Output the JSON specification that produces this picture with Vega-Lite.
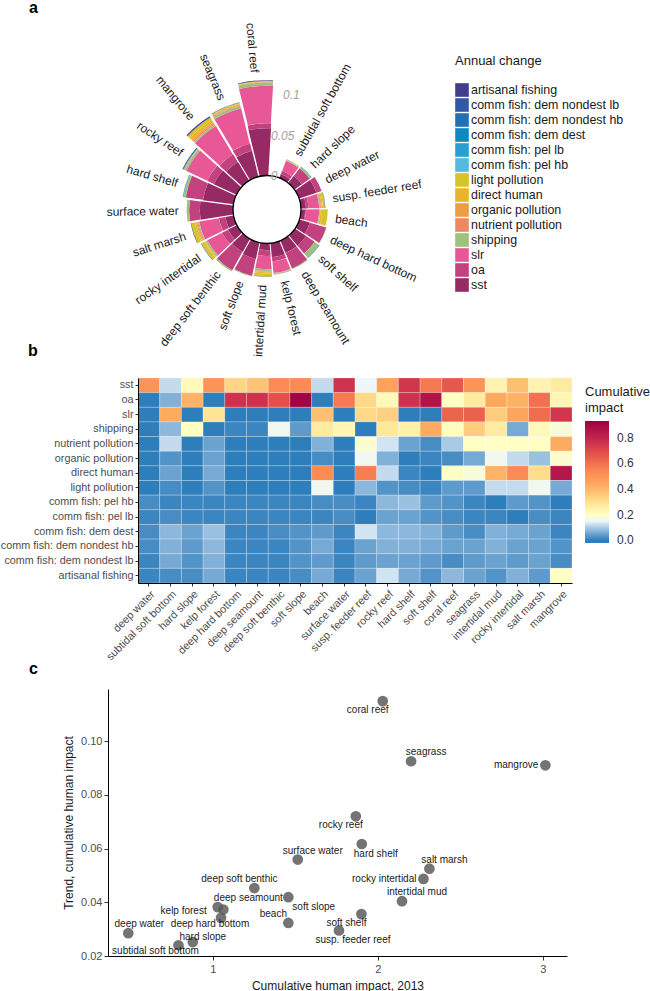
{
"$schema": "https://vega.github.io/schema/vega-lite/v6.json",
"padding": 0,
"bounds": "flush",
"spacing": 106,
"resolve": {"scale": {"color": "independent"}, "legend": {"color": "independent"}},
"config": {
  "font": "Liberation Sans",
  "view": {"stroke": null},
  "axis": {"grid": false, "domainColor": "#000000", "domainWidth": 1, "tickColor": "#333333", "labelColor": "#4d4d4d", "titleColor": "#1a1a1a", "titleFontWeight": "normal", "labelFontSize": 11, "titleFontSize": 12},
  "legend": {"titleFontWeight": "normal", "titleColor": "#1a1a1a", "labelColor": "#1a1a1a"},
  "title": {"fontSize": 16, "fontWeight": "bold", "anchor": "start", "frame": "group", "color": "#000000", "baseline": "alphabetic"}
},
"datasets": {
  "habitats": [
    {"habitat":"deep water","impact2013":0.488,"trend":0.0285},
    {"habitat":"subtidal soft bottom","impact2013":0.792,"trend":0.0240},
    {"habitat":"hard slope","impact2013":0.879,"trend":0.0252},
    {"habitat":"kelp forest","impact2013":1.030,"trend":0.0382},
    {"habitat":"deep seamount","impact2013":1.064,"trend":0.0373},
    {"habitat":"deep hard bottom","impact2013":1.050,"trend":0.0342},
    {"habitat":"deep soft benthic","impact2013":1.252,"trend":0.0453},
    {"habitat":"surface water","impact2013":1.515,"trend":0.0559},
    {"habitat":"soft slope","impact2013":1.458,"trend":0.0419},
    {"habitat":"beach","impact2013":1.458,"trend":0.0323},
    {"habitat":"coral reef","impact2013":2.030,"trend":0.1149},
    {"habitat":"seagrass","impact2013":2.202,"trend":0.0925},
    {"habitat":"mangrove","impact2013":3.016,"trend":0.0910},
    {"habitat":"rocky reef","impact2013":1.867,"trend":0.0720},
    {"habitat":"hard shelf","impact2013":1.903,"trend":0.0617},
    {"habitat":"salt marsh","impact2013":2.313,"trend":0.0525},
    {"habitat":"rocky intertidal","impact2013":2.277,"trend":0.0487},
    {"habitat":"intertidal mud","impact2013":2.147,"trend":0.0404},
    {"habitat":"soft shelf","impact2013":1.901,"trend":0.0356},
    {"habitat":"susp. feeder reef","impact2013":1.765,"trend":0.0295}
  ],
  "polar": [
    {"habitat":"subtidal soft bottom","stressor":"sst","change":0.005},
    {"habitat":"subtidal soft bottom","stressor":"oa","change":0.004},
    {"habitat":"subtidal soft bottom","stressor":"slr","change":0.013},
    {"habitat":"subtidal soft bottom","stressor":"shipping","change":0.001},
    {"habitat":"subtidal soft bottom","stressor":"organic pollution","change":0.0004},
    {"habitat":"subtidal soft bottom","stressor":"light pollution","change":0.0004},
    {"habitat":"subtidal soft bottom","stressor":"comm fish: dem dest","change":0.0001},
    {"habitat":"subtidal soft bottom","stressor":"artisanal fishing","change":0.0001},
    {"habitat":"hard slope","stressor":"sst","change":0.011},
    {"habitat":"hard slope","stressor":"oa","change":0.0115},
    {"habitat":"hard slope","stressor":"shipping","change":0.0022},
    {"habitat":"hard slope","stressor":"comm fish: dem dest","change":0.0005},
    {"habitat":"deep water","stressor":"sst","change":0.022},
    {"habitat":"deep water","stressor":"oa","change":0.0065},
    {"habitat":"susp. feeder reef","stressor":"sst","change":0.006},
    {"habitat":"susp. feeder reef","stressor":"oa","change":0.003},
    {"habitat":"susp. feeder reef","stressor":"slr","change":0.013},
    {"habitat":"susp. feeder reef","stressor":"shipping","change":0.001},
    {"habitat":"susp. feeder reef","stressor":"nutrient pollution","change":0.001},
    {"habitat":"susp. feeder reef","stressor":"organic pollution","change":0.001},
    {"habitat":"susp. feeder reef","stressor":"direct human","change":0.0015},
    {"habitat":"susp. feeder reef","stressor":"light pollution","change":0.0025},
    {"habitat":"susp. feeder reef","stressor":"comm fish: dem dest","change":0.0003},
    {"habitat":"susp. feeder reef","stressor":"artisanal fishing","change":0.0002},
    {"habitat":"beach","stressor":"sst","change":0.005},
    {"habitat":"beach","stressor":"oa","change":0.001},
    {"habitat":"beach","stressor":"slr","change":0.016},
    {"habitat":"beach","stressor":"shipping","change":0.001},
    {"habitat":"beach","stressor":"organic pollution","change":0.0005},
    {"habitat":"beach","stressor":"direct human","change":0.002},
    {"habitat":"beach","stressor":"light pollution","change":0.0068},
    {"habitat":"deep hard bottom","stressor":"sst","change":0.013},
    {"habitat":"deep hard bottom","stressor":"oa","change":0.0207},
    {"habitat":"deep hard bottom","stressor":"shipping","change":0.0005},
    {"habitat":"soft shelf","stressor":"sst","change":0.016},
    {"habitat":"soft shelf","stressor":"oa","change":0.0125},
    {"habitat":"soft shelf","stressor":"shipping","change":0.0065},
    {"habitat":"soft shelf","stressor":"comm fish: pel hb","change":0.0002},
    {"habitat":"soft shelf","stressor":"comm fish: dem dest","change":0.0002},
    {"habitat":"soft shelf","stressor":"artisanal fishing","change":0.0002},
    {"habitat":"deep seamount","stressor":"sst","change":0.016},
    {"habitat":"deep seamount","stressor":"oa","change":0.0203},
    {"habitat":"deep seamount","stressor":"shipping","change":0.001},
    {"habitat":"kelp forest","stressor":"sst","change":0.017},
    {"habitat":"kelp forest","stressor":"oa","change":0.005},
    {"habitat":"kelp forest","stressor":"slr","change":0.014},
    {"habitat":"kelp forest","stressor":"shipping","change":0.001},
    {"habitat":"kelp forest","stressor":"nutrient pollution","change":0.0003},
    {"habitat":"kelp forest","stressor":"organic pollution","change":0.0002},
    {"habitat":"kelp forest","stressor":"direct human","change":0.0003},
    {"habitat":"kelp forest","stressor":"comm fish: dem dest","change":0.0002},
    {"habitat":"kelp forest","stressor":"artisanal fishing","change":0.0002},
    {"habitat":"intertidal mud","stressor":"sst","change":0.008},
    {"habitat":"intertidal mud","stressor":"oa","change":0.007},
    {"habitat":"intertidal mud","stressor":"slr","change":0.016},
    {"habitat":"intertidal mud","stressor":"shipping","change":0.002},
    {"habitat":"intertidal mud","stressor":"nutrient pollution","change":0.0007},
    {"habitat":"intertidal mud","stressor":"organic pollution","change":0.001},
    {"habitat":"intertidal mud","stressor":"direct human","change":0.0015},
    {"habitat":"intertidal mud","stressor":"light pollution","change":0.004},
    {"habitat":"intertidal mud","stressor":"comm fish: dem nondest hb","change":0.0002},
    {"habitat":"soft slope","stressor":"sst","change":0.020},
    {"habitat":"soft slope","stressor":"oa","change":0.021},
    {"habitat":"soft slope","stressor":"shipping","change":0.0009},
    {"habitat":"deep soft benthic","stressor":"sst","change":0.018},
    {"habitat":"deep soft benthic","stressor":"oa","change":0.0253},
    {"habitat":"deep soft benthic","stressor":"shipping","change":0.002},
    {"habitat":"rocky intertidal","stressor":"sst","change":0.012},
    {"habitat":"rocky intertidal","stressor":"oa","change":0.008},
    {"habitat":"rocky intertidal","stressor":"slr","change":0.020},
    {"habitat":"rocky intertidal","stressor":"shipping","change":0.002},
    {"habitat":"rocky intertidal","stressor":"organic pollution","change":0.0008},
    {"habitat":"rocky intertidal","stressor":"direct human","change":0.0012},
    {"habitat":"rocky intertidal","stressor":"light pollution","change":0.004},
    {"habitat":"rocky intertidal","stressor":"comm fish: pel hb","change":0.0002},
    {"habitat":"rocky intertidal","stressor":"artisanal fishing","change":0.0005},
    {"habitat":"salt marsh","stressor":"sst","change":0.010},
    {"habitat":"salt marsh","stressor":"oa","change":0.008},
    {"habitat":"salt marsh","stressor":"slr","change":0.024},
    {"habitat":"salt marsh","stressor":"shipping","change":0.0015},
    {"habitat":"salt marsh","stressor":"nutrient pollution","change":0.001},
    {"habitat":"salt marsh","stressor":"organic pollution","change":0.0012},
    {"habitat":"salt marsh","stressor":"direct human","change":0.0018},
    {"habitat":"salt marsh","stressor":"light pollution","change":0.0045},
    {"habitat":"salt marsh","stressor":"artisanal fishing","change":0.0005},
    {"habitat":"surface water","stressor":"sst","change":0.040},
    {"habitat":"surface water","stressor":"oa","change":0.0129},
    {"habitat":"surface water","stressor":"shipping","change":0.003},
    {"habitat":"hard shelf","stressor":"sst","change":0.037},
    {"habitat":"hard shelf","stressor":"oa","change":0.021},
    {"habitat":"hard shelf","stressor":"shipping","change":0.0025},
    {"habitat":"hard shelf","stressor":"comm fish: pel hb","change":0.0003},
    {"habitat":"hard shelf","stressor":"comm fish: pel lb","change":0.0002},
    {"habitat":"hard shelf","stressor":"comm fish: dem dest","change":0.0003},
    {"habitat":"hard shelf","stressor":"comm fish: dem nondest hb","change":0.0002},
    {"habitat":"hard shelf","stressor":"artisanal fishing","change":0.0002},
    {"habitat":"rocky reef","stressor":"sst","change":0.030},
    {"habitat":"rocky reef","stressor":"oa","change":0.009},
    {"habitat":"rocky reef","stressor":"slr","change":0.0275},
    {"habitat":"rocky reef","stressor":"shipping","change":0.0025},
    {"habitat":"rocky reef","stressor":"organic pollution","change":0.0005},
    {"habitat":"rocky reef","stressor":"direct human","change":0.0005},
    {"habitat":"rocky reef","stressor":"comm fish: pel hb","change":0.0003},
    {"habitat":"rocky reef","stressor":"comm fish: dem dest","change":0.0002},
    {"habitat":"rocky reef","stressor":"comm fish: dem nondest hb","change":0.0003},
    {"habitat":"rocky reef","stressor":"comm fish: dem nondest lb","change":0.0002},
    {"habitat":"rocky reef","stressor":"artisanal fishing","change":0.001},
    {"habitat":"mangrove","stressor":"sst","change":0.026},
    {"habitat":"mangrove","stressor":"oa","change":0.011},
    {"habitat":"mangrove","stressor":"slr","change":0.040},
    {"habitat":"mangrove","stressor":"shipping","change":0.002},
    {"habitat":"mangrove","stressor":"nutrient pollution","change":0.0015},
    {"habitat":"mangrove","stressor":"organic pollution","change":0.002},
    {"habitat":"mangrove","stressor":"direct human","change":0.003},
    {"habitat":"mangrove","stressor":"light pollution","change":0.0035},
    {"habitat":"mangrove","stressor":"comm fish: dem nondest hb","change":0.0005},
    {"habitat":"mangrove","stressor":"artisanal fishing","change":0.0015},
    {"habitat":"seagrass","stressor":"sst","change":0.032},
    {"habitat":"seagrass","stressor":"oa","change":0.009},
    {"habitat":"seagrass","stressor":"slr","change":0.044},
    {"habitat":"seagrass","stressor":"shipping","change":0.003},
    {"habitat":"seagrass","stressor":"nutrient pollution","change":0.0008},
    {"habitat":"seagrass","stressor":"organic pollution","change":0.0012},
    {"habitat":"seagrass","stressor":"direct human","change":0.001},
    {"habitat":"seagrass","stressor":"light pollution","change":0.0008},
    {"habitat":"seagrass","stressor":"comm fish: dem nondest hb","change":0.0003},
    {"habitat":"seagrass","stressor":"artisanal fishing","change":0.0004},
    {"habitat":"coral reef","stressor":"sst","change":0.057},
    {"habitat":"coral reef","stressor":"oa","change":0.006},
    {"habitat":"coral reef","stressor":"slr","change":0.0451},
    {"habitat":"coral reef","stressor":"shipping","change":0.004},
    {"habitat":"coral reef","stressor":"organic pollution","change":0.0005},
    {"habitat":"coral reef","stressor":"direct human","change":0.0006},
    {"habitat":"coral reef","stressor":"light pollution","change":0.0006},
    {"habitat":"coral reef","stressor":"comm fish: dem nondest lb","change":0.0004},
    {"habitat":"coral reef","stressor":"artisanal fishing","change":0.0007}
  ],
  "heat": [
    {"habitat":"deep water","stressor":"sst","impact":0.50},{"habitat":"subtidal soft bottom","stressor":"sst","impact":0.12},{"habitat":"hard slope","stressor":"sst","impact":0.22},{"habitat":"kelp forest","stressor":"sst","impact":0.50},{"habitat":"deep hard bottom","stressor":"sst","impact":0.33},{"habitat":"deep seamount","stressor":"sst","impact":0.37},{"habitat":"deep soft benthic","stressor":"sst","impact":0.53},{"habitat":"soft slope","stressor":"sst","impact":0.53},{"habitat":"beach","stressor":"sst","impact":0.12},{"habitat":"surface water","stressor":"sst","impact":0.76},{"habitat":"susp. feeder reef","stressor":"sst","impact":0.15},{"habitat":"rocky reef","stressor":"sst","impact":0.46},{"habitat":"hard shelf","stressor":"sst","impact":0.75},{"habitat":"soft shelf","stressor":"sst","impact":0.58},{"habitat":"coral reef","stressor":"sst","impact":0.66},{"habitat":"seagrass","stressor":"sst","impact":0.50},{"habitat":"intertidal mud","stressor":"sst","impact":0.24},{"habitat":"rocky intertidal","stressor":"sst","impact":0.38},{"habitat":"salt marsh","stressor":"sst","impact":0.24},{"habitat":"mangrove","stressor":"sst","impact":0.27},
    {"habitat":"deep water","stressor":"oa","impact":0.00},{"habitat":"subtidal soft bottom","stressor":"oa","impact":0.07},{"habitat":"hard slope","stressor":"oa","impact":0.41},{"habitat":"kelp forest","stressor":"oa","impact":0.00},{"habitat":"deep hard bottom","stressor":"oa","impact":0.76},{"habitat":"deep seamount","stressor":"oa","impact":0.76},{"habitat":"deep soft benthic","stressor":"oa","impact":0.68},{"habitat":"soft slope","stressor":"oa","impact":0.92},{"habitat":"beach","stressor":"oa","impact":0.00},{"habitat":"surface water","stressor":"oa","impact":0.58},{"habitat":"susp. feeder reef","stressor":"oa","impact":0.32},{"habitat":"rocky reef","stressor":"oa","impact":0.22},{"habitat":"hard shelf","stressor":"oa","impact":0.76},{"habitat":"soft shelf","stressor":"oa","impact":0.86},{"habitat":"coral reef","stressor":"oa","impact":0.20},{"habitat":"seagrass","stressor":"oa","impact":0.27},{"habitat":"intertidal mud","stressor":"oa","impact":0.44},{"habitat":"rocky intertidal","stressor":"oa","impact":0.41},{"habitat":"salt marsh","stressor":"oa","impact":0.60},{"habitat":"mangrove","stressor":"oa","impact":0.23},
    {"habitat":"deep water","stressor":"slr","impact":0.00},{"habitat":"subtidal soft bottom","stressor":"slr","impact":0.43},{"habitat":"hard slope","stressor":"slr","impact":0.00},{"habitat":"kelp forest","stressor":"slr","impact":0.29},{"habitat":"deep hard bottom","stressor":"slr","impact":0.00},{"habitat":"deep seamount","stressor":"slr","impact":0.00},{"habitat":"deep soft benthic","stressor":"slr","impact":0.00},{"habitat":"soft slope","stressor":"slr","impact":0.00},{"habitat":"beach","stressor":"slr","impact":0.38},{"habitat":"surface water","stressor":"slr","impact":0.00},{"habitat":"susp. feeder reef","stressor":"slr","impact":0.32},{"habitat":"rocky reef","stressor":"slr","impact":0.34},{"habitat":"hard shelf","stressor":"slr","impact":0.00},{"habitat":"soft shelf","stressor":"slr","impact":0.00},{"habitat":"coral reef","stressor":"slr","impact":0.63},{"habitat":"seagrass","stressor":"slr","impact":0.64},{"habitat":"intertidal mud","stressor":"slr","impact":0.35},{"habitat":"rocky intertidal","stressor":"slr","impact":0.45},{"habitat":"salt marsh","stressor":"slr","impact":0.61},{"habitat":"mangrove","stressor":"slr","impact":0.75},
    {"habitat":"deep water","stressor":"shipping","impact":0.00},{"habitat":"subtidal soft bottom","stressor":"shipping","impact":0.08},{"habitat":"hard slope","stressor":"shipping","impact":0.20},{"habitat":"kelp forest","stressor":"shipping","impact":0.00},{"habitat":"deep hard bottom","stressor":"shipping","impact":0.01},{"habitat":"deep seamount","stressor":"shipping","impact":0.01},{"habitat":"deep soft benthic","stressor":"shipping","impact":0.16},{"habitat":"soft slope","stressor":"shipping","impact":0.04},{"habitat":"beach","stressor":"shipping","impact":0.27},{"habitat":"surface water","stressor":"shipping","impact":0.23},{"habitat":"susp. feeder reef","stressor":"shipping","impact":0.00},{"habitat":"rocky reef","stressor":"shipping","impact":0.28},{"habitat":"hard shelf","stressor":"shipping","impact":0.25},{"habitat":"soft shelf","stressor":"shipping","impact":0.43},{"habitat":"coral reef","stressor":"shipping","impact":0.21},{"habitat":"seagrass","stressor":"shipping","impact":0.35},{"habitat":"intertidal mud","stressor":"shipping","impact":0.27},{"habitat":"rocky intertidal","stressor":"shipping","impact":0.06},{"habitat":"salt marsh","stressor":"shipping","impact":0.22},{"habitat":"mangrove","stressor":"shipping","impact":0.18},
    {"habitat":"deep water","stressor":"nutrient pollution","impact":0.00},{"habitat":"subtidal soft bottom","stressor":"nutrient pollution","impact":0.12},{"habitat":"hard slope","stressor":"nutrient pollution","impact":0.00},{"habitat":"kelp forest","stressor":"nutrient pollution","impact":0.05},{"habitat":"deep hard bottom","stressor":"nutrient pollution","impact":0.00},{"habitat":"deep seamount","stressor":"nutrient pollution","impact":0.00},{"habitat":"deep soft benthic","stressor":"nutrient pollution","impact":0.00},{"habitat":"soft slope","stressor":"nutrient pollution","impact":0.00},{"habitat":"beach","stressor":"nutrient pollution","impact":0.07},{"habitat":"surface water","stressor":"nutrient pollution","impact":0.00},{"habitat":"susp. feeder reef","stressor":"nutrient pollution","impact":0.19},{"habitat":"rocky reef","stressor":"nutrient pollution","impact":0.13},{"habitat":"hard shelf","stressor":"nutrient pollution","impact":0.05},{"habitat":"soft shelf","stressor":"nutrient pollution","impact":0.02},{"habitat":"coral reef","stressor":"nutrient pollution","impact":0.10},{"habitat":"seagrass","stressor":"nutrient pollution","impact":0.20},{"habitat":"intertidal mud","stressor":"nutrient pollution","impact":0.20},{"habitat":"rocky intertidal","stressor":"nutrient pollution","impact":0.20},{"habitat":"salt marsh","stressor":"nutrient pollution","impact":0.20},{"habitat":"mangrove","stressor":"nutrient pollution","impact":0.43},
    {"habitat":"deep water","stressor":"organic pollution","impact":0.00},{"habitat":"subtidal soft bottom","stressor":"organic pollution","impact":0.03},{"habitat":"hard slope","stressor":"organic pollution","impact":0.00},{"habitat":"kelp forest","stressor":"organic pollution","impact":0.05},{"habitat":"deep hard bottom","stressor":"organic pollution","impact":0.00},{"habitat":"deep seamount","stressor":"organic pollution","impact":0.00},{"habitat":"deep soft benthic","stressor":"organic pollution","impact":0.00},{"habitat":"soft slope","stressor":"organic pollution","impact":0.00},{"habitat":"beach","stressor":"organic pollution","impact":0.02},{"habitat":"surface water","stressor":"organic pollution","impact":0.00},{"habitat":"susp. feeder reef","stressor":"organic pollution","impact":0.16},{"habitat":"rocky reef","stressor":"organic pollution","impact":0.07},{"habitat":"hard shelf","stressor":"organic pollution","impact":0.00},{"habitat":"soft shelf","stressor":"organic pollution","impact":0.01},{"habitat":"coral reef","stressor":"organic pollution","impact":0.02},{"habitat":"seagrass","stressor":"organic pollution","impact":0.06},{"habitat":"intertidal mud","stressor":"organic pollution","impact":0.16},{"habitat":"rocky intertidal","stressor":"organic pollution","impact":0.12},{"habitat":"salt marsh","stressor":"organic pollution","impact":0.09},{"habitat":"mangrove","stressor":"organic pollution","impact":0.19},
    {"habitat":"deep water","stressor":"direct human","impact":0.00},{"habitat":"subtidal soft bottom","stressor":"direct human","impact":0.05},{"habitat":"hard slope","stressor":"direct human","impact":0.00},{"habitat":"kelp forest","stressor":"direct human","impact":0.06},{"habitat":"deep hard bottom","stressor":"direct human","impact":0.00},{"habitat":"deep seamount","stressor":"direct human","impact":0.00},{"habitat":"deep soft benthic","stressor":"direct human","impact":0.00},{"habitat":"soft slope","stressor":"direct human","impact":0.00},{"habitat":"beach","stressor":"direct human","impact":0.53},{"habitat":"surface water","stressor":"direct human","impact":0.00},{"habitat":"susp. feeder reef","stressor":"direct human","impact":0.57},{"habitat":"rocky reef","stressor":"direct human","impact":0.12},{"habitat":"hard shelf","stressor":"direct human","impact":0.01},{"habitat":"soft shelf","stressor":"direct human","impact":0.00},{"habitat":"coral reef","stressor":"direct human","impact":0.20},{"habitat":"seagrass","stressor":"direct human","impact":0.18},{"habitat":"intertidal mud","stressor":"direct human","impact":0.41},{"habitat":"rocky intertidal","stressor":"direct human","impact":0.53},{"habitat":"salt marsh","stressor":"direct human","impact":0.31},{"habitat":"mangrove","stressor":"direct human","impact":0.85},
    {"habitat":"deep water","stressor":"light pollution","impact":0.00},{"habitat":"subtidal soft bottom","stressor":"light pollution","impact":0.02},{"habitat":"hard slope","stressor":"light pollution","impact":0.00},{"habitat":"kelp forest","stressor":"light pollution","impact":0.03},{"habitat":"deep hard bottom","stressor":"light pollution","impact":0.00},{"habitat":"deep seamount","stressor":"light pollution","impact":0.00},{"habitat":"deep soft benthic","stressor":"light pollution","impact":0.00},{"habitat":"soft slope","stressor":"light pollution","impact":0.00},{"habitat":"beach","stressor":"light pollution","impact":0.16},{"habitat":"surface water","stressor":"light pollution","impact":0.00},{"habitat":"susp. feeder reef","stressor":"light pollution","impact":0.08},{"habitat":"rocky reef","stressor":"light pollution","impact":0.03},{"habitat":"hard shelf","stressor":"light pollution","impact":0.02},{"habitat":"soft shelf","stressor":"light pollution","impact":0.01},{"habitat":"coral reef","stressor":"light pollution","impact":0.04},{"habitat":"seagrass","stressor":"light pollution","impact":0.04},{"habitat":"intertidal mud","stressor":"light pollution","impact":0.12},{"habitat":"rocky intertidal","stressor":"light pollution","impact":0.12},{"habitat":"salt marsh","stressor":"light pollution","impact":0.16},{"habitat":"mangrove","stressor":"light pollution","impact":0.06},
    {"habitat":"deep water","stressor":"comm fish: pel hb","impact":0.02},{"habitat":"subtidal soft bottom","stressor":"comm fish: pel hb","impact":0.01},{"habitat":"hard slope","stressor":"comm fish: pel hb","impact":0.01},{"habitat":"kelp forest","stressor":"comm fish: pel hb","impact":0.01},{"habitat":"deep hard bottom","stressor":"comm fish: pel hb","impact":0.01},{"habitat":"deep seamount","stressor":"comm fish: pel hb","impact":0.01},{"habitat":"deep soft benthic","stressor":"comm fish: pel hb","impact":0.01},{"habitat":"soft slope","stressor":"comm fish: pel hb","impact":0.01},{"habitat":"beach","stressor":"comm fish: pel hb","impact":0.02},{"habitat":"surface water","stressor":"comm fish: pel hb","impact":0.02},{"habitat":"susp. feeder reef","stressor":"comm fish: pel hb","impact":0.01},{"habitat":"rocky reef","stressor":"comm fish: pel hb","impact":0.08},{"habitat":"hard shelf","stressor":"comm fish: pel hb","impact":0.09},{"habitat":"soft shelf","stressor":"comm fish: pel hb","impact":0.04},{"habitat":"coral reef","stressor":"comm fish: pel hb","impact":0.03},{"habitat":"seagrass","stressor":"comm fish: pel hb","impact":0.01},{"habitat":"intertidal mud","stressor":"comm fish: pel hb","impact":0.00},{"habitat":"rocky intertidal","stressor":"comm fish: pel hb","impact":0.04},{"habitat":"salt marsh","stressor":"comm fish: pel hb","impact":0.03},{"habitat":"mangrove","stressor":"comm fish: pel hb","impact":0.00},
    {"habitat":"deep water","stressor":"comm fish: pel lb","impact":0.01},{"habitat":"subtidal soft bottom","stressor":"comm fish: pel lb","impact":0.02},{"habitat":"hard slope","stressor":"comm fish: pel lb","impact":0.01},{"habitat":"kelp forest","stressor":"comm fish: pel lb","impact":0.01},{"habitat":"deep hard bottom","stressor":"comm fish: pel lb","impact":0.01},{"habitat":"deep seamount","stressor":"comm fish: pel lb","impact":0.01},{"habitat":"deep soft benthic","stressor":"comm fish: pel lb","impact":0.01},{"habitat":"soft slope","stressor":"comm fish: pel lb","impact":0.01},{"habitat":"beach","stressor":"comm fish: pel lb","impact":0.01},{"habitat":"surface water","stressor":"comm fish: pel lb","impact":0.02},{"habitat":"susp. feeder reef","stressor":"comm fish: pel lb","impact":0.00},{"habitat":"rocky reef","stressor":"comm fish: pel lb","impact":0.05},{"habitat":"hard shelf","stressor":"comm fish: pel lb","impact":0.05},{"habitat":"soft shelf","stressor":"comm fish: pel lb","impact":0.03},{"habitat":"coral reef","stressor":"comm fish: pel lb","impact":0.02},{"habitat":"seagrass","stressor":"comm fish: pel lb","impact":0.01},{"habitat":"intertidal mud","stressor":"comm fish: pel lb","impact":0.01},{"habitat":"rocky intertidal","stressor":"comm fish: pel lb","impact":0.00},{"habitat":"salt marsh","stressor":"comm fish: pel lb","impact":0.02},{"habitat":"mangrove","stressor":"comm fish: pel lb","impact":0.01},
    {"habitat":"deep water","stressor":"comm fish: dem dest","impact":0.02},{"habitat":"subtidal soft bottom","stressor":"comm fish: dem dest","impact":0.08},{"habitat":"hard slope","stressor":"comm fish: dem dest","impact":0.05},{"habitat":"kelp forest","stressor":"comm fish: dem dest","impact":0.09},{"habitat":"deep hard bottom","stressor":"comm fish: dem dest","impact":0.01},{"habitat":"deep seamount","stressor":"comm fish: dem dest","impact":0.01},{"habitat":"deep soft benthic","stressor":"comm fish: dem dest","impact":0.02},{"habitat":"soft slope","stressor":"comm fish: dem dest","impact":0.03},{"habitat":"beach","stressor":"comm fish: dem dest","impact":0.04},{"habitat":"surface water","stressor":"comm fish: dem dest","impact":0.01},{"habitat":"susp. feeder reef","stressor":"comm fish: dem dest","impact":0.13},{"habitat":"rocky reef","stressor":"comm fish: dem dest","impact":0.08},{"habitat":"hard shelf","stressor":"comm fish: dem dest","impact":0.08},{"habitat":"soft shelf","stressor":"comm fish: dem dest","impact":0.07},{"habitat":"coral reef","stressor":"comm fish: dem dest","impact":0.04},{"habitat":"seagrass","stressor":"comm fish: dem dest","impact":0.02},{"habitat":"intertidal mud","stressor":"comm fish: dem dest","impact":0.07},{"habitat":"rocky intertidal","stressor":"comm fish: dem dest","impact":0.06},{"habitat":"salt marsh","stressor":"comm fish: dem dest","impact":0.05},{"habitat":"mangrove","stressor":"comm fish: dem dest","impact":0.01},
    {"habitat":"deep water","stressor":"comm fish: dem nondest hb","impact":0.02},{"habitat":"subtidal soft bottom","stressor":"comm fish: dem nondest hb","impact":0.07},{"habitat":"hard slope","stressor":"comm fish: dem nondest hb","impact":0.04},{"habitat":"kelp forest","stressor":"comm fish: dem nondest hb","impact":0.08},{"habitat":"deep hard bottom","stressor":"comm fish: dem nondest hb","impact":0.01},{"habitat":"deep seamount","stressor":"comm fish: dem nondest hb","impact":0.01},{"habitat":"deep soft benthic","stressor":"comm fish: dem nondest hb","impact":0.01},{"habitat":"soft slope","stressor":"comm fish: dem nondest hb","impact":0.03},{"habitat":"beach","stressor":"comm fish: dem nondest hb","impact":0.06},{"habitat":"surface water","stressor":"comm fish: dem nondest hb","impact":0.01},{"habitat":"susp. feeder reef","stressor":"comm fish: dem nondest hb","impact":0.05},{"habitat":"rocky reef","stressor":"comm fish: dem nondest hb","impact":0.07},{"habitat":"hard shelf","stressor":"comm fish: dem nondest hb","impact":0.07},{"habitat":"soft shelf","stressor":"comm fish: dem nondest hb","impact":0.06},{"habitat":"coral reef","stressor":"comm fish: dem nondest hb","impact":0.05},{"habitat":"seagrass","stressor":"comm fish: dem nondest hb","impact":0.05},{"habitat":"intertidal mud","stressor":"comm fish: dem nondest hb","impact":0.07},{"habitat":"rocky intertidal","stressor":"comm fish: dem nondest hb","impact":0.05},{"habitat":"salt marsh","stressor":"comm fish: dem nondest hb","impact":0.05},{"habitat":"mangrove","stressor":"comm fish: dem nondest hb","impact":0.03},
    {"habitat":"deep water","stressor":"comm fish: dem nondest lb","impact":0.01},{"habitat":"subtidal soft bottom","stressor":"comm fish: dem nondest lb","impact":0.06},{"habitat":"hard slope","stressor":"comm fish: dem nondest lb","impact":0.03},{"habitat":"kelp forest","stressor":"comm fish: dem nondest lb","impact":0.07},{"habitat":"deep hard bottom","stressor":"comm fish: dem nondest lb","impact":0.01},{"habitat":"deep seamount","stressor":"comm fish: dem nondest lb","impact":0.01},{"habitat":"deep soft benthic","stressor":"comm fish: dem nondest lb","impact":0.01},{"habitat":"soft slope","stressor":"comm fish: dem nondest lb","impact":0.03},{"habitat":"beach","stressor":"comm fish: dem nondest lb","impact":0.04},{"habitat":"surface water","stressor":"comm fish: dem nondest lb","impact":0.01},{"habitat":"susp. feeder reef","stressor":"comm fish: dem nondest lb","impact":0.04},{"habitat":"rocky reef","stressor":"comm fish: dem nondest lb","impact":0.05},{"habitat":"hard shelf","stressor":"comm fish: dem nondest lb","impact":0.05},{"habitat":"soft shelf","stressor":"comm fish: dem nondest lb","impact":0.04},{"habitat":"coral reef","stressor":"comm fish: dem nondest lb","impact":0.02},{"habitat":"seagrass","stressor":"comm fish: dem nondest lb","impact":0.04},{"habitat":"intertidal mud","stressor":"comm fish: dem nondest lb","impact":0.05},{"habitat":"rocky intertidal","stressor":"comm fish: dem nondest lb","impact":0.04},{"habitat":"salt marsh","stressor":"comm fish: dem nondest lb","impact":0.05},{"habitat":"mangrove","stressor":"comm fish: dem nondest lb","impact":0.02},
    {"habitat":"deep water","stressor":"artisanal fishing","impact":0.01},{"habitat":"subtidal soft bottom","stressor":"artisanal fishing","impact":0.02},{"habitat":"hard slope","stressor":"artisanal fishing","impact":0.02},{"habitat":"kelp forest","stressor":"artisanal fishing","impact":0.06},{"habitat":"deep hard bottom","stressor":"artisanal fishing","impact":0.01},{"habitat":"deep seamount","stressor":"artisanal fishing","impact":0.01},{"habitat":"deep soft benthic","stressor":"artisanal fishing","impact":0.01},{"habitat":"soft slope","stressor":"artisanal fishing","impact":0.02},{"habitat":"beach","stressor":"artisanal fishing","impact":0.06},{"habitat":"surface water","stressor":"artisanal fishing","impact":0.01},{"habitat":"susp. feeder reef","stressor":"artisanal fishing","impact":0.05},{"habitat":"rocky reef","stressor":"artisanal fishing","impact":0.13},{"habitat":"hard shelf","stressor":"artisanal fishing","impact":0.06},{"habitat":"soft shelf","stressor":"artisanal fishing","impact":0.03},{"habitat":"coral reef","stressor":"artisanal fishing","impact":0.08},{"habitat":"seagrass","stressor":"artisanal fishing","impact":0.05},{"habitat":"intertidal mud","stressor":"artisanal fishing","impact":0.03},{"habitat":"rocky intertidal","stressor":"artisanal fishing","impact":0.07},{"habitat":"salt marsh","stressor":"artisanal fishing","impact":0.04},{"habitat":"mangrove","stressor":"artisanal fishing","impact":0.20}
  ]
},
"vconcat": [
  {
    "width": 258,
    "height": 125,
    "title": {"text": "a", "dx": -109, "offset": 6},
    "layer": [
      {
        "data": {"name": "polar"},
        "transform": [{"window": [{"op": "row_number", "as": "k"}], "groupby": ["habitat"]}],
        "mark": {"type": "arc", "padAngle": 0.018},
        "encoding": {
          "theta": {"field": "habitat", "type": "nominal",
            "scale": {"type": "band", "domain": ["axis","subtidal soft bottom","hard slope","deep water","susp. feeder reef","beach","deep hard bottom","soft shelf","deep seamount","kelp forest","intertidal mud","soft slope","deep soft benthic","rocky intertidal","salt marsh","surface water","hard shelf","rocky reef","mangrove","seagrass","coral reef"], "range": [0.06, 6.34319], "paddingInner": 0, "paddingOuter": 0}},
          "radius": {"field": "change", "type": "quantitative", "stack": "zero",
            "scale": {"type": "linear", "domain": [0, 0.12], "range": [34, 133.6], "zero": false, "nice": false}},
          "color": {"field": "stressor", "type": "nominal",
            "scale": {"domain": ["artisanal fishing","comm fish: dem nondest lb","comm fish: dem nondest hb","comm fish: dem dest","comm fish: pel lb","comm fish: pel hb","light pollution","direct human","organic pollution","nutrient pollution","shipping","slr","oa","sst"],
                      "range": ["#413d8a","#2f5ba4","#2270b5","#0f88c2","#2a9fcf","#55b9de","#d6c428","#e9b42a","#ec9c45","#ee8862","#9cc17e","#e95896","#c2427f","#962a64"]},
            "legend": {"orient": "none", "legendX": 317, "legendY": -92, "direction": "vertical", "title": "Annual change", "titleFontSize": 13, "titlePadding": 15, "labelFontSize": 12.4, "labelOffset": 2, "symbolType": "square", "symbolSize": 185, "symbolStrokeWidth": 0, "symbolOpacity": 1, "rowPadding": 1}},
          "order": {"field": "k", "type": "quantitative", "sort": "ascending"}
        }
      },
      {
        "data": {"values": [{}]},
        "mark": {"type": "point", "shape": "circle", "size": 4624, "filled": false, "stroke": "#000000", "strokeWidth": 1.3, "opacity": 1},
        "encoding": {}
      },
      {
        "data": {"values": [{"v": 0, "lab": "0"}, {"v": 0.05, "lab": "0.05"}, {"v": 0.1, "lab": "0.1"}]},
        "mark": {"type": "text", "fontSize": 12, "fontStyle": "italic", "color": "#a3a3a3", "align": "center", "baseline": "middle"},
        "encoding": {
          "theta": {"datum": "axis", "type": "nominal"},
          "radius": {"field": "v", "type": "quantitative", "stack": null},
          "text": {"field": "lab"}
        }
      },
      {
        "data": {"name": "habitats"},
        "transform": [{"filter": {"field": "habitat", "oneOf": ["subtidal soft bottom","hard slope","deep water","susp. feeder reef","beach","deep hard bottom","soft shelf","deep seamount","kelp forest"]}}],
        "mark": {"type": "text", "align": "left", "baseline": "middle", "dx": 8, "fontSize": 12, "color": "#1a1a1a"},
        "encoding": {
          "theta": {"field": "habitat", "type": "nominal"},
          "radius": {"field": "trend", "type": "quantitative", "stack": null},
          "angle": {"field": "habitat", "type": "nominal", "legend": null,
            "scale": {"type": "point", "padding": 0, "domain": ["subtidal soft bottom","hard slope","deep water","susp. feeder reef","beach","deep hard bottom","soft shelf","deep seamount","kelp forest"], "range": [-60.85, 76.29]}},
          "text": {"field": "habitat"}
        }
      },
      {
        "data": {"name": "habitats"},
        "transform": [{"filter": {"field": "habitat", "oneOf": ["intertidal mud","soft slope","deep soft benthic","rocky intertidal","salt marsh","surface water","hard shelf","rocky reef","mangrove","seagrass","coral reef"]}}],
        "mark": {"type": "text", "align": "right", "baseline": "middle", "dx": -8, "fontSize": 12, "color": "#1a1a1a"},
        "encoding": {
          "theta": {"field": "habitat", "type": "nominal"},
          "radius": {"field": "trend", "type": "quantitative", "stack": null},
          "angle": {"field": "habitat", "type": "nominal", "legend": null,
            "scale": {"type": "point", "padding": 0, "domain": ["intertidal mud","soft slope","deep soft benthic","rocky intertidal","salt marsh","surface water","hard shelf","rocky reef","mangrove","seagrass","coral reef"], "range": [-86.56, 84.86]}},
          "text": {"field": "habitat"}
        }
      }
    ],
    "resolve": {"scale": {"angle": "independent"}}
  },
  {
    "width": 434,
    "height": 205,
    "title": {"text": "b", "dx": -110, "offset": 19},
    "data": {"name": "heat"},
    "mark": {"type": "rect", "stroke": "#ffffff", "strokeWidth": 0.5, "strokeOpacity": 0.45},
    "encoding": {
      "x": {"field": "habitat", "type": "nominal",
        "sort": ["deep water","subtidal soft bottom","hard slope","kelp forest","deep hard bottom","deep seamount","deep soft benthic","soft slope","beach","surface water","susp. feeder reef","rocky reef","hard shelf","soft shelf","coral reef","seagrass","intertidal mud","rocky intertidal","salt marsh","mangrove"],
        "axis": {"title": null, "labelAngle": -45, "labelFontSize": 10.8, "tickSize": 3, "labelPadding": 2}},
      "y": {"field": "stressor", "type": "nominal",
        "sort": ["sst","oa","slr","shipping","nutrient pollution","organic pollution","direct human","light pollution","comm fish: pel hb","comm fish: pel lb","comm fish: dem dest","comm fish: dem nondest hb","comm fish: dem nondest lb","artisanal fishing"],
        "axis": {"title": null, "labelFontSize": 10.8, "tickSize": 3, "labelPadding": 2}},
      "color": {"field": "impact", "type": "quantitative",
        "scale": {"domain": [-0.02, 0.0, 0.08, 0.15, 0.2, 0.3, 0.42, 0.55, 0.68, 0.8, 0.93],
                  "range": ["#2f7ebc","#2f7ebc","#8db8dc","#eef6fa","#ffffc4","#fee28f","#fdae61","#f98650","#e3504a","#c2244d","#9e0142"],
                  "interpolate": "rgb"},
        "legend": {"orient": "none", "legendX": 447, "legendY": 8, "direction": "vertical", "title": ["Cumulative", "impact"], "titleFontSize": 13, "titleLineHeight": 16, "titlePadding": 6, "gradientLength": 122, "gradientThickness": 24, "gradientStrokeWidth": 0, "values": [0, 0.2, 0.4, 0.6, 0.8], "format": ".1f", "labelFontSize": 12, "labelColor": "#333333", "labelOffset": 8}}
    }
  },
  {
    "width": 429,
    "height": 267,
    "title": {"text": "c", "dx": -109, "offset": 12},
    "data": {"name": "habitats"},
    "encoding": {
      "x": {"field": "impact2013", "type": "quantitative",
        "scale": {"domain": [0.365, 3.147], "range": [-30, 429], "nice": false, "zero": false},
        "axis": {"values": [1, 2, 3], "format": "d", "title": "Cumulative human impact, 2013", "tickSize": 4, "labelPadding": 3, "titlePadding": 6}},
      "y": {"field": "trend", "type": "quantitative",
        "scale": {"domain": [0.02, 0.1194], "nice": false, "zero": false},
        "axis": {"values": [0.02, 0.04, 0.06, 0.08, 0.1], "format": ".2f", "title": "Trend, cumulative human impact", "tickSize": 4, "titlePadding": 5, "offset": 30}}
    },
    "layer": [
      {"mark": {"type": "circle", "size": 115, "color": "#5c5c5c", "opacity": 0.85}},
      {"transform": [{"filter": {"field": "habitat", "oneOf": ["seagrass","surface water","salt marsh","intertidal mud"]}}],
       "mark": {"type": "text", "dx": 15, "dy": -9, "fontSize": 10, "color": "#1a1a1a"},
       "encoding": {"text": {"field": "habitat"}}},
      {"transform": [{"filter": {"field": "habitat", "oneOf": ["deep water"]}}],
       "mark": {"type": "text", "dx": 11, "dy": -9, "fontSize": 10, "color": "#1a1a1a"},
       "encoding": {"text": {"field": "habitat"}}},
      {"transform": [{"filter": {"field": "habitat", "oneOf": ["hard slope"]}}],
       "mark": {"type": "text", "dx": 10, "dy": -5, "fontSize": 10, "color": "#1a1a1a"},
       "encoding": {"text": {"field": "habitat"}}},
      {"transform": [{"filter": {"field": "habitat", "oneOf": ["deep seamount"]}}],
       "mark": {"type": "text", "dx": 25, "dy": -12, "fontSize": 10, "color": "#1a1a1a"},
       "encoding": {"text": {"field": "habitat"}}},
      {"transform": [{"filter": {"field": "habitat", "oneOf": ["coral reef","rocky reef","soft shelf"]}}],
       "mark": {"type": "text", "dx": -15, "dy": 9, "fontSize": 10, "color": "#1a1a1a"},
       "encoding": {"text": {"field": "habitat"}}},
      {"transform": [{"filter": {"field": "habitat", "oneOf": ["subtidal soft bottom"]}}],
       "mark": {"type": "text", "dx": -23, "dy": 6, "fontSize": 10, "color": "#1a1a1a"},
       "encoding": {"text": {"field": "habitat"}}},
      {"transform": [{"filter": {"field": "habitat", "oneOf": ["deep hard bottom"]}}],
       "mark": {"type": "text", "dx": -11, "dy": 6, "fontSize": 10, "color": "#1a1a1a"},
       "encoding": {"text": {"field": "habitat"}}},
      {"transform": [{"filter": {"field": "habitat", "oneOf": ["hard shelf","susp. feeder reef"]}}],
       "mark": {"type": "text", "dx": 14, "dy": 10, "fontSize": 10, "color": "#1a1a1a"},
       "encoding": {"text": {"field": "habitat"}}},
      {"transform": [{"filter": {"field": "habitat", "oneOf": ["soft slope"]}}],
       "mark": {"type": "text", "align": "left", "dx": 4, "dy": 10, "fontSize": 10, "color": "#1a1a1a"},
       "encoding": {"text": {"field": "habitat"}}},
      {"transform": [{"filter": {"field": "habitat", "oneOf": ["beach","deep soft benthic"]}}],
       "mark": {"type": "text", "dx": -15, "dy": -9, "fontSize": 10, "color": "#1a1a1a"},
       "encoding": {"text": {"field": "habitat"}}},
      {"transform": [{"filter": {"field": "habitat", "oneOf": ["mangrove","rocky intertidal"]}}],
       "mark": {"type": "text", "align": "right", "dx": -7, "fontSize": 10, "color": "#1a1a1a"},
       "encoding": {"text": {"field": "habitat"}}},
      {"transform": [{"filter": {"field": "habitat", "oneOf": ["kelp forest"]}}],
       "mark": {"type": "text", "align": "right", "dx": -11, "dy": 4, "fontSize": 10, "color": "#1a1a1a"},
       "encoding": {"text": {"field": "habitat"}}}
    ]
  }
]
}
